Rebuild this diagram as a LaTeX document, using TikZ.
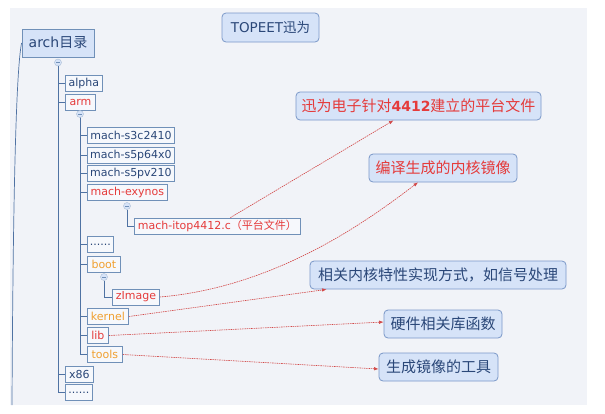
\documentclass[tikz,border=0pt]{standalone}
\usepackage{fontspec}
\setmainfont{DejaVu Sans}
\newfontfamily\cjk{Noto Sans CJK SC}
\usetikzlibrary{arrows.meta,calc}
\definecolor{bgc}{HTML}{F1F3F8}
\definecolor{linec}{HTML}{4F72A3}
\definecolor{boxc}{HTML}{7090B8}
\definecolor{boxfill}{HTML}{F6F8FC}
\definecolor{notefill}{HTML}{D6E3F8}
\definecolor{notec}{HTML}{7A98C8}
\definecolor{txtc}{HTML}{2A4778}
\definecolor{redc}{HTML}{E53B3B}
\definecolor{orc}{HTML}{F0A030}
\definecolor{arrc}{HTML}{D24848}
\tikzset{
  treebox/.style={draw=boxc, line width=0.8pt, fill=boxfill, inner xsep=2pt, inner ysep=0pt,
    minimum height=16pt, anchor=west, text=txtc, font=\fontsize{11}{12}\selectfont},
  notebox/.style={draw=notec, line width=0.8pt, fill=notefill, rounded corners=4pt,
    minimum height=28pt, inner xsep=3pt, text=redc, font=\cjk\fontsize{15}{16}\selectfont},
  collapse/.style={circle, draw=boxc!60, fill=notefill, inner sep=0pt, minimum size=7pt,
    path picture={\draw[boxc, line width=0.5pt] ([xshift=-2pt]path picture bounding box.center) -- ([xshift=2pt]path picture bounding box.center);}},
  tline/.style={draw=linec, line width=1pt},
  conn/.style={draw=arrc, line width=0.6pt, dash pattern=on 1.5pt off 0.8pt, -{Latex[length=4.5pt,width=3.5pt]}},
}
\begin{document}
\begin{tikzpicture}[x=1pt,y=-1pt]
\useasboundingbox (0,0) rectangle (605,413);
\fill[white] (0,0) rectangle (605,413);
\fill[bgc] (10,8) rectangle (587,405);

% header nodes
\node[draw=notec, line width=0.8pt, fill=notefill, rounded corners=4pt, minimum width=97pt, minimum height=29pt,
  text=txtc, font=\fontsize{13.5}{15}\selectfont, inner sep=0pt] (topeet) at (270.5,27.5) {TOPEET{\cjk 迅为}};
\node[draw=boxc, line width=0.8pt, fill=notefill, minimum width=72pt, minimum height=28pt,
  text=txtc, font=\fontsize{14}{16}\selectfont, inner sep=0pt] (arch) at (58,43) {arch{\cjk 目录}};

% far-left line
\draw[linec, line width=0.7pt] (arch.west) .. controls (16,70) and (13,200) .. (12,405);

% tree nodes
\node[treebox, minimum width=37pt] (alpha) at (65,83) {alpha};
\node[treebox, minimum width=30pt, text=redc] (arm) at (65,102) {arm};
\node[treebox, minimum width=87pt] (s3c) at (87,135) {mach-s3c2410};
\node[treebox, minimum width=87pt] (s5p) at (87,155) {mach-s5p64x0};
\node[treebox, minimum width=87pt] (s5pv) at (87,173.5) {mach-s5pv210};
\node[treebox, minimum width=80pt, text=redc] (exynos) at (87,192) {mach-exynos};
\node[treebox, minimum width=166pt, text=redc] (itop) at (134,226) {mach-itop4412.c{\cjk （平台文件）}};
\node[treebox, minimum width=26pt] (dotsa) at (87,244.5) {......};
\node[treebox, minimum width=33pt, text=orc] (boot) at (87,264.5) {boot};
\node[treebox, minimum width=47pt, text=redc] (zimage) at (112,297) {zImage};
\node[treebox, minimum width=41pt, text=orc] (kernel) at (87,316.5) {kernel};
\node[treebox, minimum width=21pt, text=redc] (lib) at (87,335.5) {lib};
\node[treebox, minimum width=35pt, text=orc] (tools) at (87,354.5) {tools};
\node[treebox, minimum width=28pt] (x86) at (65,374) {x86};
\node[treebox, minimum width=27pt] (dotsb) at (65,392.5) {......};

% collapse circles
\node[collapse] (carch) at (58,62.5) {};
\node[collapse] (carm) at (80,114) {};
\node[collapse] (cexy) at (127,206) {};
\node[collapse] (cboot) at (104,277) {};

% tree lines
\foreach \c in {alpha,arm,x86,dotsb} \draw[tline] (carch) |- (\c.west);
\foreach \c in {s3c,s5p,s5pv,exynos,dotsa,boot,kernel,lib,tools} \draw[tline] (carm) |- (\c.west);
\draw[tline] (cexy) |- (itop.west);
\draw[tline] (cboot) |- (zimage.west);

% notes
\node[notebox, minimum width=245pt] (n1) at (418.5,106) {迅为电子针对{\fontspec{DejaVu Sans}\bfseries\fontsize{14}{16}\selectfont 4412}建立的平台文件};
\node[notebox, minimum width=148pt] (n2) at (443,168) {编译生成的内核镜像};
\node[notebox, minimum width=256pt, text=txtc] (n3) at (438,275) {相关内核特性实现方式，如信号处理};
\node[notebox, minimum width=118pt, text=txtc] (n4) at (443,324) {硬件相关库函数};
\node[notebox, minimum width=119pt, text=txtc] (n5) at (438.5,367) {生成镜像的工具};

% connectors
\draw[conn] ([xshift=13pt]itop.north) -- ([xshift=-25pt]n1.south);
\draw[conn] (zimage.east) .. controls (280,287) and (375,215) .. ([xshift=-25pt]n2.south);
\draw[conn] (kernel.east) -- ([xshift=17pt]n3.south west);
\draw[conn] (lib.east) -- ([yshift=2pt]n4.west);
\draw[conn] (tools.east) -- ([yshift=-2pt]n5.west);
\end{tikzpicture}
\end{document}
